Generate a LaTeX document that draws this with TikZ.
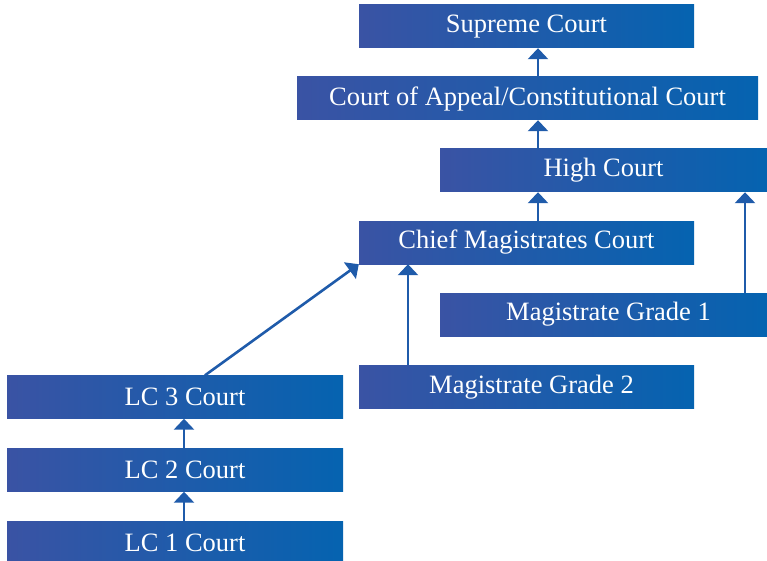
\documentclass[tikz,border=0pt]{standalone}
\usepackage{fontspec}
\setmainfont{Liberation Serif}
\usetikzlibrary{arrows.meta}
\definecolor{boxleft}{HTML}{3A53A4}
\definecolor{boxright}{HTML}{0563B0}
\definecolor{arrowblue}{HTML}{1F5BAA}
\begin{document}
\begin{tikzpicture}
[x=1pt,y=-1pt,
 boxdecorate/.style={shape=rectangle,inner sep=0pt,minimum height=43pt,
   left color=boxleft,right color=boxright,text=white,
   font=\fontsize{26.5}{30}\selectfont},%
 arrowdecorate/.style={-{Triangle[width=20pt,length=11pt]},line width=2.6pt,draw=arrowblue}]
\useasboundingbox (0,0) rectangle (767,561);
%% courts (\dx pads the left side of the text)
\foreach \nodename/\x/\y/\w/\dx/\txt in {sc/526.5/26.5/335/0/Supreme Court,
    coa/527.5/98.5/461/0/{Court of Appeal/Constitutional Court},
    hc/603.5/170.5/327/0/High Court,
    cmc/526.5/242.5/335/0/Chief Magistrates Court,
    mgone/603.5/314.5/327/10/Magistrate Grade 1,
    mgtwo/526.5/387/335/10/Magistrate Grade 2,
    lcthree/175/397/336/20/LC 3 Court,
    lctwo/175/470/336/20/LC 2 Court,
    lcone/175/542.5/336/20/LC 1 Court} {
  \node (\nodename) at (\x,\y) [boxdecorate,minimum width=\w pt] {\hspace*{\dx pt}\txt};
}
%% columns of the arrows
\foreach \colname/\x in {spine/538, colr/745, colm/408, collc/184, coldiag/205} {
  \coordinate (\colname) at (\x,0);
}
%% appeals
\path
\foreach \startnode/\endnode/\colname in {coa/sc/spine, hc/coa/spine, cmc/hc/spine,
    mgone/hc/colr, mgtwo/cmc/colm, lctwo/lcthree/collc, lcone/lctwo/collc} {
  (\startnode.north -| \colname) edge[arrowdecorate] (\endnode.south -| \colname)
}
(lcthree.north -| coldiag) edge[arrowdecorate] (cmc.south west);
\end{tikzpicture}
\end{document}
